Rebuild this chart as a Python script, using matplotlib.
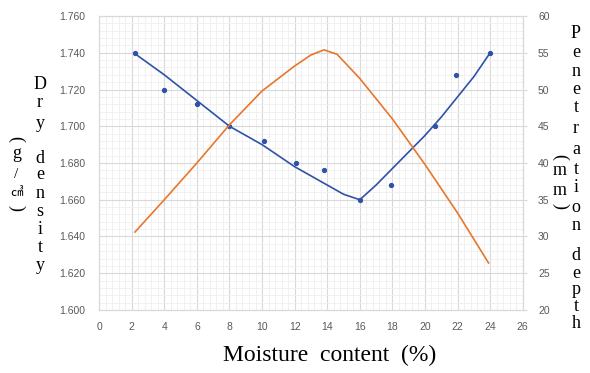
import matplotlib.pyplot as plt
from matplotlib.ticker import MultipleLocator, FormatStrFormatter

# Moisture content (%) of the measured samples
moisture = [2.2, 4.0, 6.0, 8.0, 10.1, 12.1, 13.8, 16.0, 17.9, 20.6, 21.9, 24.0]
dry_density = [1.740, 1.720, 1.712, 1.700, 1.692, 1.680, 1.676, 1.660,
               1.668, 1.700, 1.728, 1.740]

# Dry density trend line
trend_x = [2.2, 4.0, 6.0, 8.0, 10.0, 12.0, 14.0, 15.0, 16.0,
           17.0, 18.0, 19.0, 20.0, 21.0, 22.0, 23.0, 24.0]
trend_y = [1.7395, 1.728, 1.714, 1.700, 1.690, 1.678, 1.668, 1.663, 1.660,
           1.668, 1.677, 1.686, 1.695, 1.705, 1.716, 1.727, 1.740]

# Penetration depth (mm), smooth line
pen_x = [2.2, 4.0, 6.0, 8.0, 10.0, 12.0, 13.0, 13.8, 14.6, 16.0,
         18.0, 20.0, 22.0, 23.9]
pen_y = [30.6, 35.0, 40.0, 45.2, 49.8, 53.2, 54.7, 55.4, 54.8, 51.5,
         46.0, 39.8, 33.2, 26.4]

BLUE = '#2f52a8'
ORANGE = '#e8762b'
GRID = '#d9d9d9'
MINOR = '#efefef'
TICK = '#595959'
SERIF = ['Liberation Serif', 'Noto Sans CJK JP']
W, H = 590, 373

plt.rcParams['font.family'] = ['Liberation Sans', 'DejaVu Sans']

fig = plt.figure(figsize=(W / 100, H / 100), dpi=100)
ax = fig.add_axes([0.168, 0.169, 0.718, 0.788])
ax2 = ax.twinx()

ax.set_xlim(0, 26)
ax.set_ylim(1.600, 1.760)
ax2.set_ylim(20, 60)

ax.xaxis.set_major_locator(MultipleLocator(2))
ax.xaxis.set_minor_locator(MultipleLocator(0.4))
ax.yaxis.set_major_locator(MultipleLocator(0.02))
ax.yaxis.set_minor_locator(MultipleLocator(0.004))
ax.yaxis.set_major_formatter(FormatStrFormatter('%.3f'))
ax2.yaxis.set_major_locator(MultipleLocator(5))

ax.grid(True, which='minor', color=MINOR, lw=0.6)
ax.grid(True, which='major', color=GRID, lw=0.8)
ax.set_axisbelow(True)

for a in (ax, ax2):
    for s in a.spines.values():
        s.set_color(GRID)
        s.set_linewidth(0.8)
    a.tick_params(which='both', length=0, labelsize=7.5, labelcolor=TICK)
ax.tick_params(axis='y', pad=10)
ax.tick_params(axis='x', pad=9)
ax2.tick_params(axis='y', length=3, color=GRID, pad=8)

ax.plot(trend_x, trend_y, color=BLUE, lw=1.2, zorder=3)
ax.plot(moisture, dry_density, 'o', color=BLUE, ms=2.8, zorder=4)
ax2.plot(pen_x, pen_y, color=ORANGE, lw=1.2, zorder=3)


def stack(x, chars, ys, size=13, va='baseline', rot=0):
    # one character per row, ys are pixel rows from the top
    for c, y in zip(chars, ys):
        fig.text(x / W, 1 - y / H, c, family=SERIF, fontsize=size,
                 ha='center', va=va, rotation=rot)


# x label
fig.text(330 / W, 1 - 361 / H, 'Moisture  content  (%)', family=SERIF,
         fontsize=17, ha='center', va='baseline')

# left vertical label
stack(40, 'Drydensity', [89, 107, 128, 163, 179, 198, 216, 234, 252, 270])
stack(16, '()', [139, 208], size=13, va='center', rot=-90)
stack(17, 'g', [158])
stack(16, '/', [174], size=11, va='center')
stack(17, '\u33a4', [193], size=9, va='center')

# right vertical label
stack(576, 'Penetrationdepth',
      [38, 57, 76, 94, 112, 133, 154, 174, 192, 212, 230,
       260, 278, 294, 311, 328])
stack(560, '()', [157, 206], size=13, va='center', rot=-90)
stack(560, 'mm', [175, 195])

fig.savefig('out.png', dpi=100)
